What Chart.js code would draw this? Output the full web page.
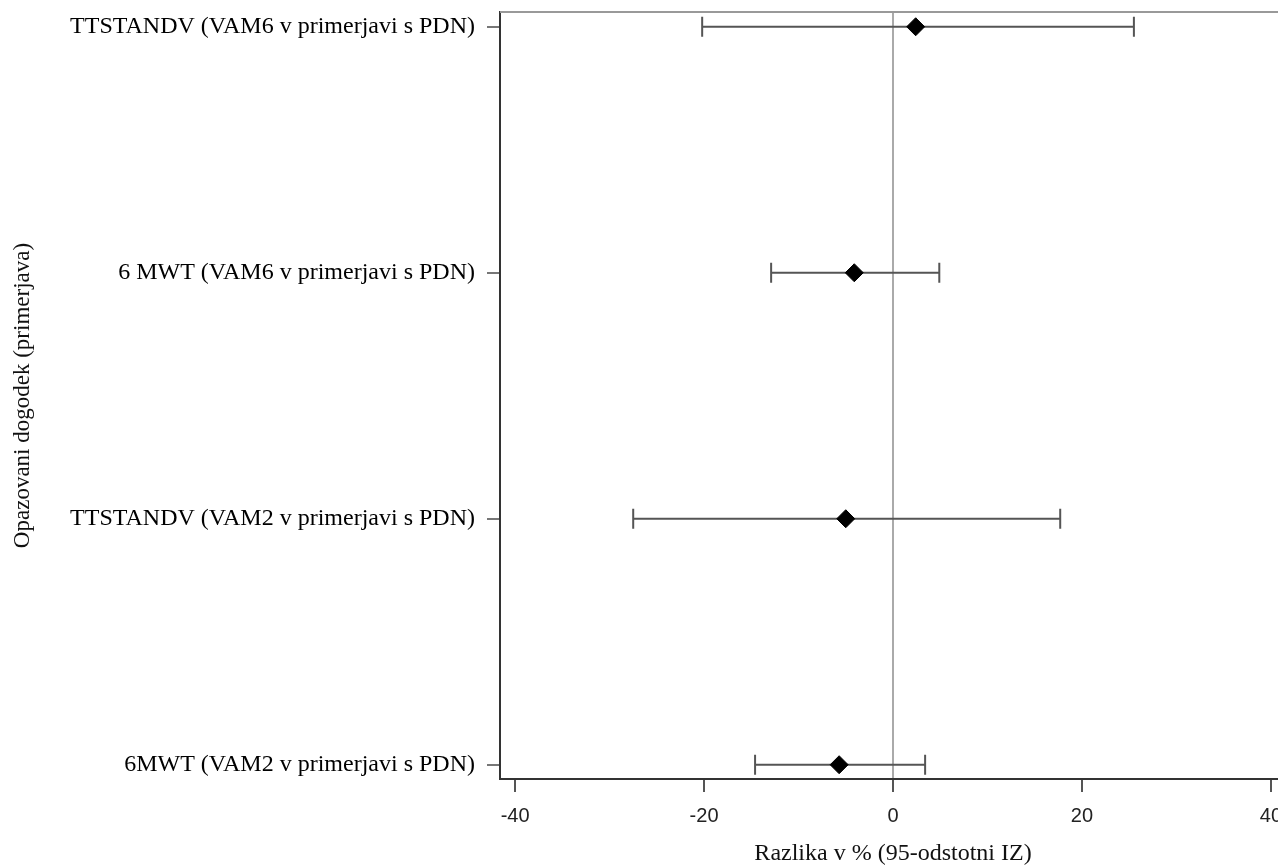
<!DOCTYPE html>
<html>
<head>
<meta charset="utf-8">
<script src="https://cdn.jsdelivr.net/npm/chart.js@4"></script>
<style>
    html, body { margin: 0; padding: 0; background: #fff; overflow: hidden; }
    #wrap { position: relative; width: 1300px; height: 868px; }
</style>
</head>
<body>
<div id="wrap"><canvas id="forestChart"></canvas></div>
<script>
// Rows, top to bottom
const labels = [
    'TTSTANDV (VAM6 v primerjavi s PDN)',
    '6 MWT (VAM6 v primerjavi s PDN)',
    'TTSTANDV (VAM2 v primerjavi s PDN)',
    '6MWT (VAM2 v primerjavi s PDN)'
];
const estimates = [2.4, -4.1, -5.0, -5.7];
const lower = [-20.2, -12.9, -27.5, -14.6];
const upper = [25.5, 4.9, 17.7, 3.4];
const xTicks = [-40, -20, 0, 20, 40];

// Whiskers with end caps, drawn under the diamonds
const errorBars = {
    id: 'errorBars',
    beforeDatasetsDraw(chart) {
        const { ctx, scales: { x, y } } = chart;
        ctx.save();
        ctx.strokeStyle = '#555';
        ctx.lineWidth = 2;
        labels.forEach((_, i) => {
            const py = y.getPixelForValue(i);
            const x1 = x.getPixelForValue(lower[i]);
            const x2 = x.getPixelForValue(upper[i]);
            ctx.beginPath();
            ctx.moveTo(x1, py);
            ctx.lineTo(x2, py);
            ctx.moveTo(x1, py - 10);
            ctx.lineTo(x1, py + 10);
            ctx.moveTo(x2, py - 10);
            ctx.lineTo(x2, py + 10);
            ctx.stroke();
        });
        ctx.restore();
    }
};

// Top frame line
const topFrame = {
    id: 'topFrame',
    afterDraw(chart) {
        const { ctx, chartArea } = chart;
        ctx.save();
        ctx.strokeStyle = '#999';
        ctx.lineWidth = 2;
        ctx.beginPath();
        ctx.moveTo(chartArea.left, chartArea.top);
        ctx.lineTo(chartArea.right + 20, chartArea.top);
        ctx.stroke();
        ctx.restore();
    }
};

const ctx = document.getElementById('forestChart').getContext('2d');
new Chart(ctx, {
    type: 'scatter',
    data: {
        datasets: [{
            data: estimates.map((v, i) => ({ x: v, y: i })),
            pointStyle: 'rectRot',
            pointRadius: 9,
            backgroundColor: '#000',
            borderColor: '#000',
            borderWidth: 1
        }]
    },
    options: {
        responsive: true,
        maintainAspectRatio: false,
        animation: false,
        layout: { padding: { top: 12, right: 14, left: 0, bottom: 0 } },
        plugins: {
            legend: { display: false },
            tooltip: { enabled: false }
        },
        scales: {
            x: {
                type: 'linear',
                min: -41.6,
                max: 41.6,
                afterBuildTicks: (scale) => { scale.ticks = xTicks.map(v => ({ value: v })); },
                afterFit: (scale) => {
                    scale.height = 89;
                    scale.paddingLeft = 0;
                    scale.paddingRight = 0;
                },
                ticks: {
                    color: '#222',
                    padding: 12,
                    maxRotation: 0,
                    font: { family: "'Liberation Sans', Arial, sans-serif", size: 20 }
                },
                grid: {
                    color: (c) => (c.tick && c.tick.value === 0) ? '#aaa' : 'rgba(0,0,0,0)',
                    lineWidth: 2,
                    tickColor: '#555',
                    tickLength: 13
                },
                border: { color: '#333', width: 2 },
                title: {
                    display: true,
                    text: 'Razlika v % (95-odstotni IZ)',
                    color: '#111',
                    font: { family: "'Liberation Serif', 'Times New Roman', serif", size: 24 },
                    padding: { top: 0, bottom: 0 }
                }
            },
            y: {
                type: 'linear',
                reverse: true,
                min: -0.06,
                max: 3.058,
                afterBuildTicks: (scale) => { scale.ticks = labels.map((_, i) => ({ value: i })); },
                afterFit: (scale) => {
                    scale.width = 500;
                    scale.paddingTop = 0;
                    scale.paddingBottom = 0;
                },
                ticks: {
                    color: '#000',
                    padding: 12,
                    callback: (v) => labels[v],
                    font: { family: "'Liberation Serif', 'Times New Roman', serif", size: 24 }
                },
                grid: {
                    drawOnChartArea: false,
                    tickColor: '#777',
                    tickLength: 13,
                    lineWidth: 2
                },
                border: { color: '#333', width: 2 },
                title: {
                    display: true,
                    text: 'Opazovani dogodek (primerjava)',
                    color: '#111',
                    font: { family: "'Liberation Serif', 'Times New Roman', serif", size: 23 },
                    padding: { top: 9, bottom: 0 }
                }
            }
        }
    },
    plugins: [errorBars, topFrame]
});
</script>
</body>
</html>
